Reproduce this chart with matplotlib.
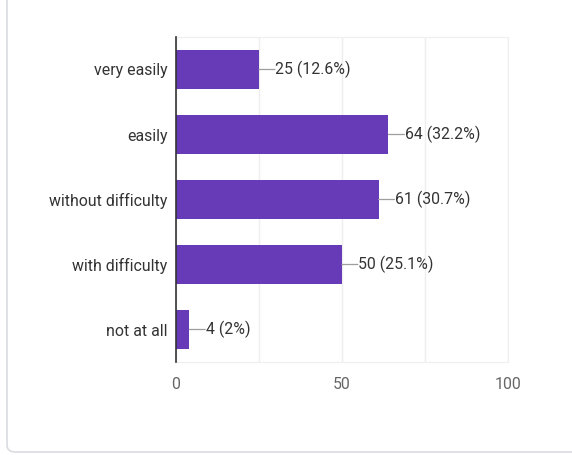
import matplotlib.pyplot as plt
from matplotlib.patches import FancyBboxPatch

categories = ["very easily", "easily", "without difficulty", "with difficulty", "not at all"]
counts = [25, 64, 61, 50, 4]
percents = ["12.6%", "32.2%", "30.7%", "25.1%", "2%"]
xticks = [0, 50, 100]

plt.rcParams['font.family'] = ['Roboto', 'DejaVu Sans']

fig = plt.figure(figsize=(5.72, 4.55), dpi=100)
fig.patch.set_facecolor("white")

# card outline, open at the top and right
card = FancyBboxPatch((7 / 572, 3 / 455), 1.2, 1.2, transform=fig.transFigure,
                      boxstyle="round,pad=0,rounding_size=0.015",
                      facecolor="none", edgecolor="#dadce0", linewidth=1.2)
fig.patches.append(card)

ax = fig.add_axes([176 / 572, 1 - 362 / 455, (508 - 176) / 572, (362 - 37) / 455])

ypos = list(range(len(categories)))
ax.barh(ypos, counts, height=0.6, color="#673ab7", zorder=3)

for y, c, p in zip(ypos, counts, percents):
    ax.annotate("", xy=(c, y), xytext=(11.5, 0), textcoords="offset points",
                arrowprops=dict(arrowstyle="-", color="#9e9e9e", lw=0.9,
                                shrinkA=0, shrinkB=0))
    ax.annotate(f"{c} ({p})", xy=(c, y), xytext=(11.8, 0), textcoords="offset points",
                va="center", ha="left", fontsize=11.4, color="#333333")

ax.set_xlim(0, 100)
ax.set_ylim(4.5, -0.5)
ax.set_yticks(ypos)
ax.set_yticklabels(categories, fontsize=11.4, color="#333333")
ax.set_xticks(xticks)
ax.set_xticklabels([str(t) for t in xticks], fontsize=11.4, color="#666666")
ax.set_xticks([25, 75], minor=True)
ax.tick_params(axis="both", which="both", length=0)
ax.tick_params(axis="y", pad=6)
ax.tick_params(axis="x", pad=11)

ax.grid(axis="x", which="both", color="#eeeeee", linewidth=1, zorder=0)
for side in ["top", "right", "bottom"]:
    ax.spines[side].set_color("#eeeeee")
ax.spines["left"].set_color("#333333")
ax.spines["left"].set_linewidth(1.2)
ax.spines["left"].set_zorder(4)

fig.savefig("out.png", dpi=100)
